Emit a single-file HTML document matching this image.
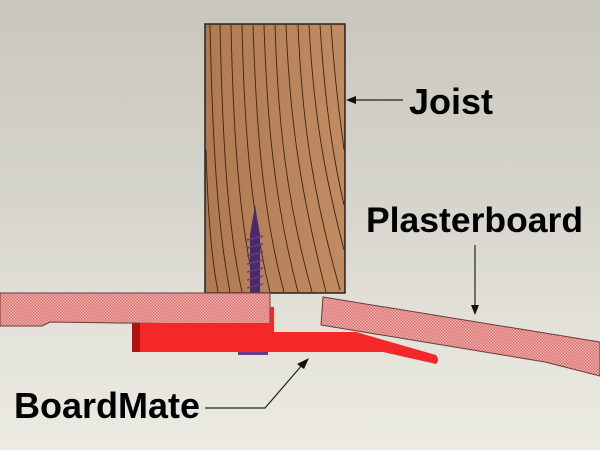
<!DOCTYPE html>
<html><head><style>
html,body{margin:0;padding:0;width:600px;height:450px;overflow:hidden}
body{background:linear-gradient(#c9c7bd 0%,#d6d5cc 45%,#e4e3da 75%,#ecebe3 100%)}
svg{position:absolute;left:0;top:0}
text{font-family:"Liberation Sans",Arial,sans-serif;font-weight:bold;fill:#000}
</style></head><body>
<svg width="600" height="450" viewBox="0 0 600 450">
<defs>
<pattern id="hatch" width="3" height="3" patternUnits="userSpaceOnUse">
<rect width="3" height="3" fill="#f0b2b0"/>
<rect width="1.5" height="1.5" fill="#d8706e"/>
<rect x="1.5" y="1.5" width="1.5" height="1.5" fill="#d8706e"/>
</pattern>
<linearGradient id="wood" x1="0" x2="1"><stop offset="0" stop-color="#b07a52"/><stop offset="1" stop-color="#c18c62"/></linearGradient>
</defs>
<!-- joist -->
<rect x="205" y="24" width="140" height="269" fill="url(#wood)" stroke="#222" stroke-width="1.5"/>
<g stroke="#3a2414" stroke-width="0.9" fill="none">
<path d="M210 25 C212 120 216 220 230 292"/>
<path d="M220 25 C222 120 226 220 242 292"/>
<path d="M231 25 C233 120 238 220 256 292"/>
<path d="M242 25 C244 120 250 210 270 292"/>
<path d="M253 25 C256 120 262 210 284 292"/>
<path d="M264 25 C267 120 274 200 298 292"/>
<path d="M275 25 C278 120 286 200 312 292"/>
<path d="M286 25 C290 120 300 190 326 292"/>
<path d="M298 25 C302 120 312 190 340 290"/>
<path d="M309 25 C314 120 326 180 344 250"/>
<path d="M320 25 C326 120 336 170 344 205"/>
<path d="M331 25 C336 100 342 130 344 150"/>
<path d="M206 150 C208 220 212 260 218 292"/>
</g>
<!-- screw -->
<path d="M255 205 L260 235 L260 293 L250 293 L250 235 Z" fill="#4a2a6a"/>
<g stroke="#6a3a8a" stroke-width="1.5">
<path d="M247 240 L263 236 M247 248 L263 244 M247 256 L263 252 M247 264 L263 260 M247 272 L263 268 M247 280 L263 276 M247 288 L263 284"/>
</g>
<!-- left board -->
<path d="M0 293 L270 293 L270 325 L50 322 L42 326 L0 326 Z" fill="url(#hatch)" stroke="#6a3a3a" stroke-width="1"/>
<!-- boardmate -->
<path d="M140 323 L270 323 L270 307 L274 307 L274 332 L356 332 L436 355 Q440 360 436 364 L383 352 L132 352 L132 330 Q132 323 140 323 Z" fill="#f42828"/>
<rect x="132" y="323" width="8" height="29" fill="#b81010"/>
<rect x="238" y="352" width="30" height="3" fill="#6a3a8a"/>
<!-- right board -->
<path d="M323 297 L600 342 L600 376 L545 362 L321 325 Z" fill="url(#hatch)" stroke="#6a3a3a" stroke-width="1"/>
<!-- arrows -->
<g stroke="#222" stroke-width="1.2" fill="none">
<line x1="403" y1="100" x2="352" y2="100"/>
<line x1="475" y1="245" x2="475" y2="308"/>
<polyline points="205,408 265,408 303,364"/>
</g>
<path d="M346 100 L356 96 L356 104 Z" fill="#111"/>
<path d="M475 315 L471 305 L479 305 Z" fill="#111"/>
<path d="M309 358 L297 364 L304 369 Z" fill="#111"/>
<text x="409" y="114" font-size="36">Joist</text>
<text x="366" y="232" font-size="35.5">Plasterboard</text>
<text x="14" y="418" font-size="36">BoardMate</text>
</svg>
</body></html>
